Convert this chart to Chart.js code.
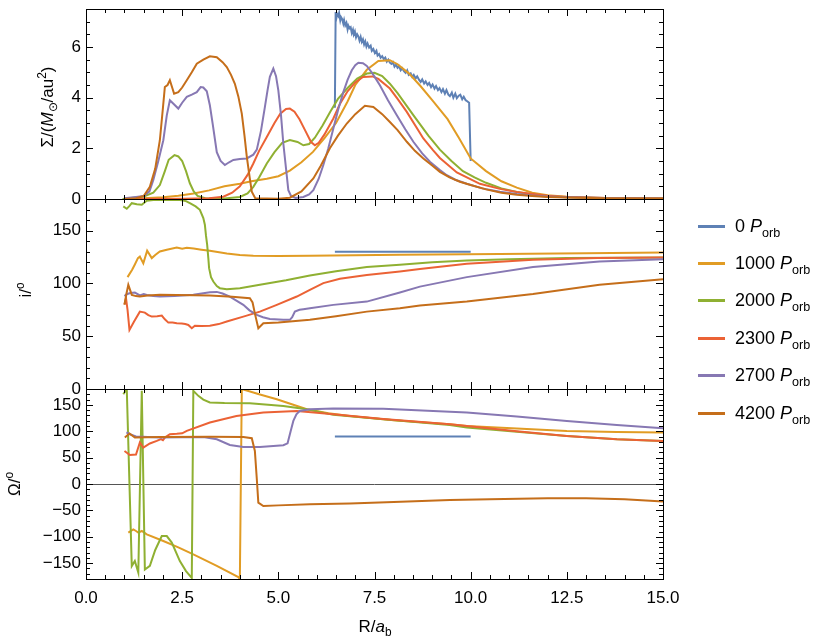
<!DOCTYPE html>
<html>
<head>
<meta charset="utf-8">
<script src="https://cdn.jsdelivr.net/npm/chart.js@4.4.0/dist/chart.umd.min.js"></script>
<style>
  body { margin: 0; background: #fff; }
  #wrap { position: relative; width: 830px; height: 642px; font-family: "Liberation Sans", Arial, sans-serif; color: #000; }
  #wrap canvas { position: absolute; left: 0; top: 0; }
  .ttl { position: absolute; font-size: 17px; white-space: nowrap; transform: translate(-50%, -50%) rotate(-90deg); }
  .xt { position: absolute; font-size: 17px; white-space: nowrap; transform: translate(-50%, -50%); }
  sub, sup { font-size: 70%; line-height: 0; }
  .leg { position: absolute; left: 698px; height: 22px; display: flex; align-items: center; font-size: 18px; white-space: nowrap; }
  .leg .ln { display: inline-block; width: 27px; height: 3px; margin-right: 10px; }
</style>
</head>
<body>
<div id="wrap">
  <canvas id="sigma" width="830" height="642"></canvas>
  <canvas id="incl" width="830" height="642"></canvas>
  <canvas id="node" width="830" height="642"></canvas>
  <div class="ttl" style="left:48px;top:107px">Σ/(<i>M</i><sub>⊙</sub>/au<sup>2</sup>)</div>
  <div class="ttl" style="left:26px;top:290px">i/<sup>o</sup></div>
  <div class="ttl" style="left:15px;top:484px">Ω/<sup>o</sup></div>
  <div class="xt" style="left:375px;top:627px">R/<i>a</i><sub>b</sub></div>
  <div id="legend"></div>
</div>
<script>
const series = ["0", "1000", "2000", "2300", "2700", "4200"];
const colors = ["#5e81b5", "#e19c24", "#8fb032", "#eb6235", "#8778b3", "#c56e1a"];

const xTicks = [0, 2.5, 5, 7.5, 10, 12.5, 15];
const sigmaTicks = [0, 2, 4, 6];
const inclTicks = [0, 50, 100, 150];
const nodeTicks = [-150, -100, -50, 0, 50, 100, 150];

// surface density
const sig0 = [[6.47,3.6],[6.49,7.38],[6.51,7.15],[6.53,7.3],[6.56,7.22],[6.58,7.34],[6.61,7.05],[6.63,7.18],[6.66,7.1],[6.69,6.92],[6.71,7.06],[6.74,6.85],[6.77,6.95],[6.8,6.7],[6.82,6.84],[6.85,6.74],[6.88,6.78],[6.91,6.55],[6.94,6.68],[6.96,6.5],[6.99,6.62],[7.02,6.38],[7.05,6.5],[7.08,6.42],[7.11,6.25],[7.14,6.4],[7.17,6.2],[7.2,6.3],[7.23,6.1],[7.26,6.22],[7.29,6.02],[7.32,6.14],[7.36,5.98],[7.4,6.05],[7.43,5.85],[7.47,5.92],[7.51,5.76],[7.55,5.85],[7.58,5.66],[7.62,5.72],[7.66,5.58],[7.7,5.64],[7.74,5.52],[7.78,5.58],[7.82,5.42],[7.86,5.5],[7.9,5.38],[7.94,5.33],[7.98,5.4],[8.02,5.22],[8.06,5.3],[8.1,5.18],[8.14,5.24],[8.18,5.08],[8.22,5.16],[8.27,5.04],[8.31,4.98],[8.35,5.08],[8.39,4.9],[8.44,4.96],[8.48,4.82],[8.52,4.9],[8.57,4.76],[8.61,4.84],[8.66,4.7],[8.7,4.62],[8.74,4.72],[8.79,4.56],[8.83,4.64],[8.88,4.5],[8.92,4.58],[8.97,4.42],[9.01,4.52],[9.06,4.36],[9.1,4.46],[9.15,4.3],[9.19,4.38],[9.24,4.22],[9.28,4.34],[9.33,4.16],[9.37,4.3],[9.42,4.12],[9.46,4.06],[9.51,4.2],[9.55,4.0],[9.6,4.16],[9.64,3.98],[9.69,4.08],[9.73,4.12],[9.78,3.94],[9.82,4.04],[9.87,3.9],[9.91,3.86],[9.96,3.8],[10.0,1.5]];
const sig1000 = [[1.0,0.0],[1.5,0.03],[2.0,0.07],[2.4,0.13],[2.8,0.22],[3.2,0.34],[3.6,0.5],[4.0,0.6],[4.3,0.7],[4.7,0.8],[5.0,0.9],[5.3,1.12],[5.6,1.45],[5.9,1.86],[6.2,2.4],[6.5,3.0],[6.8,3.85],[7.0,4.5],[7.3,5.1],[7.6,5.45],[7.9,5.48],[8.1,5.32],[8.4,4.95],[8.7,4.45],[9.0,3.9],[9.4,3.15],[9.7,2.4],[10.0,1.6],[10.4,1.1],[10.8,0.7],[11.2,0.45],[11.6,0.25],[12.0,0.15],[12.5,0.09],[13.5,0.04],[15.0,0.02]];
const sig2000 = [[0.95,0.0],[1.5,0.1],[1.75,0.25],[1.92,0.55],[2.05,1.1],[2.15,1.55],[2.3,1.73],[2.4,1.68],[2.5,1.5],[2.6,1.1],[2.7,0.62],[2.8,0.3],[2.9,0.12],[3.1,0.03],[3.6,0.02],[4.0,0.08],[4.2,0.22],[4.35,0.48],[4.5,0.85],[4.7,1.4],[4.9,1.85],[5.1,2.22],[5.3,2.33],[5.5,2.25],[5.65,2.12],[5.8,2.17],[5.95,2.42],[6.15,2.9],[6.35,3.44],[6.55,3.95],[6.8,4.38],[7.05,4.75],[7.3,4.95],[7.5,4.98],[7.7,4.85],[7.9,4.55],[8.1,4.18],[8.5,3.33],[8.9,2.5],[9.2,1.95],[9.5,1.5],[9.8,1.1],[10.1,0.85],[10.4,0.64],[10.8,0.42],[11.2,0.28],[11.6,0.18],[12.0,0.12],[12.5,0.07],[13.5,0.03],[15.0,0.02]];
const sig2300 = [[1.0,0.0],[2.5,0.01],[3.2,0.03],[3.57,0.09],[3.8,0.25],[4.0,0.5],[4.2,0.95],[4.35,1.4],[4.5,1.9],[4.7,2.45],[4.9,3.0],[5.05,3.37],[5.2,3.55],[5.3,3.57],[5.42,3.45],[5.55,3.15],[5.7,2.7],[5.85,2.25],[5.95,2.12],[6.05,2.22],[6.2,2.55],[6.43,3.18],[6.6,3.75],[6.8,4.25],[7.0,4.6],[7.2,4.82],[7.45,4.84],[7.6,4.74],[7.9,4.36],[8.1,3.95],[8.34,3.44],[8.77,2.39],[9.02,1.93],[9.2,1.62],[9.64,1.05],[9.9,0.85],[10.24,0.6],[10.76,0.4],[11.2,0.28],[11.62,0.2],[12.0,0.13],[12.5,0.08],[13.5,0.04],[15.0,0.02]];
const sig2700 = [[1.0,0.03],[1.3,0.08],[1.5,0.12],[1.65,0.3],[1.75,0.75],[1.88,1.5],[2.01,2.32],[2.1,3.3],[2.18,3.9],[2.28,3.75],[2.4,3.57],[2.5,3.8],[2.62,4.03],[2.75,4.12],[2.88,4.22],[2.98,4.42],[3.05,4.4],[3.14,4.25],[3.22,3.7],[3.3,2.9],[3.4,1.85],[3.5,1.5],[3.61,1.34],[3.72,1.45],[3.83,1.54],[4.0,1.58],[4.18,1.6],[4.35,1.75],[4.44,1.95],[4.55,2.7],[4.65,3.63],[4.72,4.3],[4.78,4.82],[4.87,5.15],[4.94,4.85],[5.0,4.29],[5.07,3.3],[5.13,2.19],[5.2,1.2],[5.26,0.35],[5.33,0.12],[5.45,0.04],[5.65,0.08],[5.8,0.18],[5.91,0.35],[6.05,0.8],[6.17,1.34],[6.3,2.0],[6.43,2.78],[6.56,3.55],[6.69,4.22],[6.8,4.7],[6.91,5.08],[7.0,5.28],[7.08,5.38],[7.2,5.36],[7.3,5.25],[7.45,4.95],[7.64,4.49],[7.85,3.9],[8.08,3.31],[8.3,2.75],[8.51,2.26],[8.74,1.8],[8.94,1.47],[9.2,1.14],[9.38,0.94],[9.6,0.76],[9.9,0.6],[10.3,0.42],[10.76,0.29],[11.2,0.2],[11.6,0.14],[12.0,0.1],[12.5,0.07],[13.5,0.04],[15.0,0.02]];
const sig4200 = [[1.0,0.0],[1.3,0.03],[1.5,0.12],[1.66,0.48],[1.8,1.2],[1.92,2.32],[2.0,3.6],[2.05,4.42],[2.12,4.5],[2.18,4.69],[2.24,4.4],[2.29,4.16],[2.4,4.22],[2.5,4.4],[2.62,4.69],[2.75,5.0],[2.88,5.34],[3.05,5.5],[3.22,5.63],[3.4,5.6],[3.55,5.4],[3.66,5.21],[3.77,4.9],[3.87,4.55],[3.96,4.05],[4.05,3.37],[4.12,2.5],[4.18,1.67],[4.25,0.9],[4.31,0.29],[4.4,0.03],[5.0,0.01],[5.3,0.05],[5.6,0.3],[5.91,0.81],[6.1,1.3],[6.34,2.0],[6.55,2.5],[6.78,2.98],[7.0,3.35],[7.25,3.68],[7.47,3.63],[7.7,3.35],[7.9,3.04],[8.1,2.72],[8.34,2.26],[8.55,1.9],[8.77,1.6],[9.0,1.32],[9.2,1.07],[9.45,0.85],[9.72,0.68],[10.0,0.55],[10.4,0.38],[10.8,0.25],[11.2,0.17],[11.6,0.12],[12.0,0.08],[12.5,0.06],[13.5,0.03],[15.0,0.02]];

// inclination
const inc0 = [[6.47,130],[10.0,130]];
const inc1000 = [[1.08,106],[1.2,113],[1.27,118],[1.35,124],[1.4,125.5],[1.49,119],[1.59,131],[1.71,124],[1.8,127],[1.92,130.3],[2.1,132],[2.36,134],[2.5,133],[2.62,133.8],[2.8,133],[3.0,132],[3.22,131],[3.66,128.4],[4.0,127],[4.35,126.2],[5.0,126],[5.82,126.2],[7.0,126.7],[8.16,127.1],[10.76,128],[13.0,128.7],[15.0,129.3]];
const inc2000 = [[0.97,173],[1.06,170.8],[1.12,173],[1.19,176],[1.32,175],[1.45,174.6],[1.58,178.4],[1.75,179],[2.0,179.3],[2.44,179],[2.6,178],[2.7,176],[2.85,173],[2.96,169.8],[3.05,162],[3.09,155.6],[3.12,145],[3.15,136.6],[3.18,124],[3.2,114.5],[3.25,106],[3.31,101.8],[3.4,97.5],[3.48,95.5],[3.66,94.5],[4.0,95.5],[4.52,98.7],[5.2,103],[5.82,107.5],[6.5,111.5],[7.3,115.5],[8.16,117.8],[9.0,120],[9.9,121.7],[11.0,123],[12.5,124],[15.0,124.6]];
const inc2300 = [[1.0,80],[1.04,86],[1.08,75],[1.13,56],[1.25,64],[1.4,73.3],[1.53,72.4],[1.62,70],[1.71,68.6],[1.85,69],[1.97,69.6],[2.05,66],[2.14,62.9],[2.25,63],[2.36,62.3],[2.49,62],[2.58,61.5],[2.66,60.7],[2.75,57.6],[2.83,60],[3.0,59.7],[3.22,60],[3.45,61.5],[3.66,63.9],[4.09,68.6],[4.52,73.3],[4.96,79.7],[5.48,87.6],[5.82,94],[6.17,100.3],[6.6,104.5],[7.3,108],[8.16,111.3],[8.68,113.6],[9.9,118.6],[11.62,122.4],[13.3,124],[15.0,124.6]];
const inc2700 = [[1.0,88],[1.06,89.8],[1.15,91],[1.27,91.4],[1.4,88.6],[1.5,90],[1.58,89],[1.75,88],[1.92,87.6],[2.3,88],[2.79,89.2],[3.22,91.7],[3.4,92],[3.55,90.5],[3.74,87.6],[3.92,83.5],[4.09,79.7],[4.25,74.5],[4.44,70.2],[4.6,68],[4.78,66.4],[5.13,65.5],[5.3,65.5],[5.36,68],[5.43,73.3],[5.55,75],[5.65,75.6],[5.82,76.5],[6.43,79.7],[7.3,82.8],[8.16,91.4],[8.68,97],[9.9,106],[11.62,115.5],[13.35,120.8],[15.0,123]];
const inc4200 = [[1.0,80],[1.05,90],[1.1,98.7],[1.19,89.2],[1.3,88],[1.4,87.6],[1.6,88.5],[1.92,89.2],[3.22,88.6],[3.8,87.5],[4.26,86],[4.33,82],[4.4,70],[4.48,57.6],[4.61,62.3],[5.0,63],[5.82,65.5],[6.5,69],[7.3,73.3],[8.16,76.5],[8.68,79],[9.9,82.8],[11.62,90],[13.35,98.7],[15.0,104]];

// longitude of ascending node
const node0 = [[6.47,90],[10.0,90]];
const node1000 = [[1.1,-92],[1.23,-86],[1.3,-89],[1.36,-92],[1.45,-89],[1.58,-95.5],[2.01,-108],[2.4,-120],[2.79,-133.4],[3.4,-155],[3.96,-176.5],[4.0,-180],[4.05,180],[4.5,170],[4.96,160.7],[5.35,151],[5.74,141.7],[6.3,134],[6.86,129],[8.0,121],[9.46,113.3],[9.9,110],[11.2,105],[12.5,100.6],[13.8,98.5],[15.0,97.5]];
const node2000 = [[0.97,170],[1.06,180],[1.19,-155.6],[1.27,-146],[1.36,-168],[1.45,176.5],[1.53,-162],[1.66,-155],[1.8,-125],[1.97,-98.7],[2.1,-98.7],[2.23,-111],[2.44,-146],[2.6,-165],[2.75,-178],[2.79,176.5],[2.92,167],[3.05,160],[3.22,154.5],[3.6,153.5],[4.26,153],[5.13,148],[5.74,141.7],[6.43,131],[7.73,122.8],[9.46,112],[9.9,107],[11.2,99],[12.5,91],[13.8,85],[15.0,81.6]];
const node2300 = [[1.0,62.6],[1.14,55],[1.3,56],[1.4,78.6],[1.49,69],[1.66,76.7],[1.84,81.6],[1.95,85],[2.0,83],[2.05,88],[2.18,94.3],[2.36,95],[2.5,96],[2.62,100.6],[3.22,116.5],[3.91,129],[4.61,135.5],[5.48,138.5],[6.0,135],[6.43,132.3],[7.73,123],[9.46,113.3],[9.9,110],[11.2,100],[12.5,91],[13.8,85],[15.0,81.6]];
const node2700 = [[1.05,98],[1.14,94.3],[1.3,90],[1.92,88],[3.05,89],[3.4,84.8],[3.74,74],[4.09,70.2],[4.52,70],[5.13,73.4],[5.24,77],[5.32,100],[5.39,119.5],[5.47,132],[5.56,138.5],[5.82,141.7],[6.43,143],[7.73,142.5],[9.46,137],[9.9,135.5],[11.2,128],[12.5,119.5],[13.8,112],[15.0,105.7]];
const node4200 = [[1.01,88],[1.13,95.6],[1.27,88],[1.92,89],[3.22,89.6],[4.09,89],[4.31,86.7],[4.39,62.6],[4.44,10],[4.48,-35.3],[4.61,-41.7],[5.0,-40.5],[5.82,-38.5],[6.86,-37],[8.0,-34],[9.46,-30.3],[10.5,-29],[12.0,-27],[13.0,-27],[14.0,-29],[15.0,-33]];

const family = "'Liberation Sans', Arial, sans-serif";

// frame with inward ticks on all four sides, like the original
const frame = {
  id: "frame",
  beforeDatasetsDraw(chart, args, o) {
    if (!o.zero) return;
    const { ctx, chartArea: a } = chart;
    const y0 = Math.round(chart.scales.y.getPixelForValue(0)) + 0.5;
    ctx.save();
    ctx.strokeStyle = "#555";
    ctx.lineWidth = 1;
    ctx.beginPath();
    ctx.moveTo(a.left, y0);
    ctx.lineTo(a.right, y0);
    ctx.stroke();
    ctx.restore();
  },
  afterDatasetsDraw(chart, args, o) {
    const { ctx, chartArea: a } = chart;
    const x = chart.scales.x, y = chart.scales.y;
    ctx.save();
    ctx.strokeStyle = "#000";
    ctx.lineWidth = 1;
    ctx.beginPath();
    const nx = Math.round((x.max - x.min) / 0.5);
    for (let k = 0; k <= nx; k++) {
      const v = x.min + k * 0.5;
      const len = k % 5 === 0 ? 7 : 4;
      const px = Math.round(x.getPixelForValue(v)) + 0.5;
      ctx.moveTo(px, a.top);
      ctx.lineTo(px, a.top + len);
      ctx.moveTo(px, a.bottom);
      ctx.lineTo(px, a.bottom - len);
    }
    const k0 = Math.ceil(y.min / o.minor - 1e-9), k1 = Math.floor(y.max / o.minor + 1e-9);
    for (let k = k0; k <= k1; k++) {
      const v = k * o.minor;
      const r = v / o.major;
      const len = Math.abs(r - Math.round(r)) < 1e-6 ? 7 : 4;
      const py = Math.round(y.getPixelForValue(v)) + 0.5;
      ctx.moveTo(a.left, py);
      ctx.lineTo(a.left + len, py);
      ctx.moveTo(a.right, py);
      ctx.lineTo(a.right - len, py);
    }
    ctx.stroke();
    ctx.strokeRect(Math.round(a.left) + 0.5, Math.round(a.top) + 0.5,
      Math.round(a.right - a.left), Math.round(a.bottom - a.top));
    ctx.restore();
  }
};

function makePanel(id, sets, yMin, yMax, yTicks, major, minor, top, bottom, showX, zero) {
  new Chart(document.getElementById(id), {
    type: "line",
    data: {
      datasets: sets.map((d, i) => ({
        label: series[i],
        data: d.map(p => ({ x: p[0], y: p[1] })),
        borderColor: colors[i],
        borderWidth: 2,
        pointRadius: 0,
        tension: 0,
        order: sets.length - i
      }))
    },
    options: {
      responsive: false,
      animation: false,
      events: [],
      layout: { padding: { top: top, bottom: bottom, left: 0, right: 167 } },
      plugins: {
        legend: { display: false },
        tooltip: { enabled: false },
        frame: { major: major, minor: minor, zero: zero }
      },
      scales: {
        x: {
          type: "linear", min: 0, max: 15, display: showX,
          grid: { display: false, drawTicks: false },
          border: { display: false },
          afterBuildTicks: s => { s.ticks = xTicks.map(v => ({ value: v })); },
          afterFit: s => { if (showX) { s.height = 40; s.paddingLeft = 0; s.paddingRight = 0; } },
          ticks: { padding: 9, maxRotation: 0, color: "#000", font: { size: 17, family: family },
            callback: v => v.toFixed(1) }
        },
        y: {
          type: "linear", min: yMin, max: yMax,
          grid: { display: false, drawTicks: false },
          border: { display: false },
          afterBuildTicks: s => { s.ticks = yTicks.map(v => ({ value: v })); },
          afterFit: s => { s.width = 86; s.paddingTop = 0; s.paddingBottom = 0; },
          ticks: { padding: 5, color: "#000", font: { size: 17, family: family },
            callback: v => v < 0 ? "\u2212" + (-v) : String(v) }
        }
      }
    },
    plugins: [frame]
  });
}

makePanel("sigma", [sig0, sig1000, sig2000, sig2300, sig2700, sig4200], 0, 7.5, sigmaTicks, 2, 0.5, 9, 443, false, false);
makePanel("incl", [inc0, inc1000, inc2000, inc2300, inc2700, inc4200], 0, 180, inclTicks, 50, 10, 199, 253, false, false);
makePanel("node", [node0, node1000, node2000, node2300, node2700, node4200], -180, 180, nodeTicks, 50, 10, 389, 23, true, true);

// legend
const legendRows = [226, 263, 300.5, 338, 375, 413];
const legend = document.getElementById("legend");
series.forEach((s, i) => {
  const row = document.createElement("div");
  row.className = "leg";
  row.style.top = (legendRows[i] - 11) + "px";
  row.innerHTML = '<span class="ln" style="background:' + colors[i] + '"></span><span>' + s + " <i>P</i><sub>orb</sub></span>";
  legend.appendChild(row);
});
</script>
</body>
</html>
